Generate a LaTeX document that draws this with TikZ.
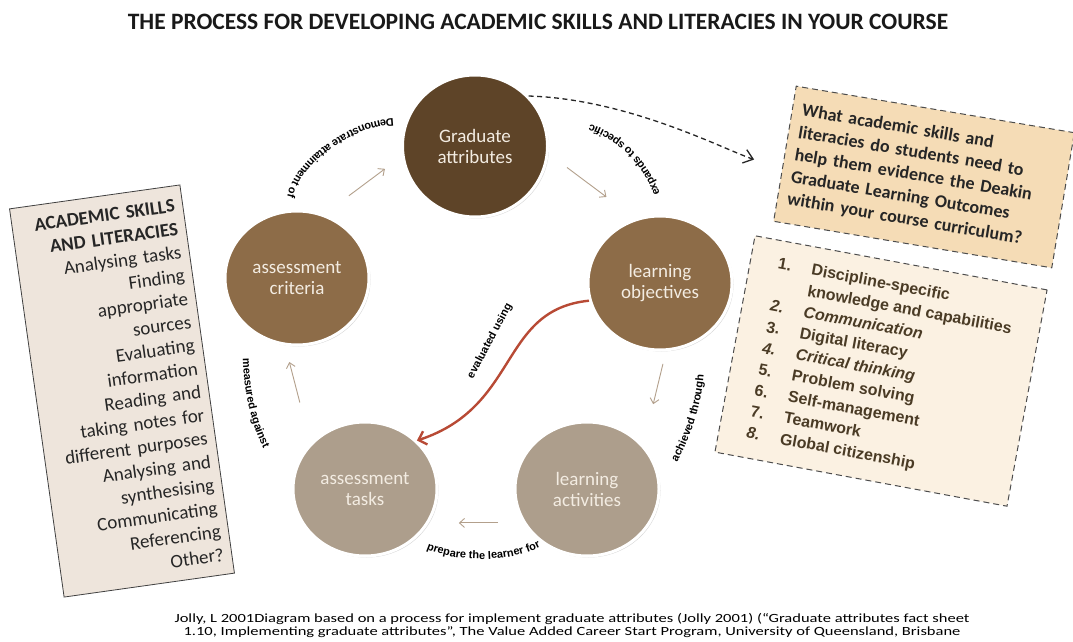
\documentclass[tikz,border=0pt]{standalone}
\usepackage{fontspec}
\setmainfont{Carlito}
\newfontfamily\arialfont{Liberation Sans}
\newfontfamily\srcfont[FakeStretch=1.32]{Carlito}
\usetikzlibrary{arrows.meta,shapes.geometric,shadows,decorations.text}
\definecolor{gabrown}{HTML}{5E4428}
\definecolor{midbrown}{HTML}{8D6C48}
\definecolor{greybrown}{HTML}{AD9E8C}
\definecolor{circtext}{HTML}{F3ECE2}
\definecolor{skillfill}{HTML}{EEE5DC}
\definecolor{askfill}{HTML}{F5DCB6}
\definecolor{listfill}{HTML}{FBF1E2}
\definecolor{listtext}{HTML}{4A3B25}
\definecolor{cyclearrow}{HTML}{B3A08C}
\definecolor{evalred}{HTML}{B84A35}
\newcommand\lblfont{\arialfont\bfseries\fontsize{11}{13}\selectfont}

\begin{document}
\begin{tikzpicture}[x=1pt,y=1pt,
  stage/.style={ellipse,minimum width=144pt,minimum height=134pt,draw=white,line width=3pt,
    text=circtext,align=center,font=\fontsize{19}{21}\selectfont,
    drop shadow={shadow xshift=1.5pt,shadow yshift=-1.5pt,opacity=.3}},
  cyc/.style={draw=cyclearrow,line width=.9pt,-{Straight Barb[length=5pt,width=9pt]}},
  pathlbl/.style={decorate,decoration={text along path,text align=center,text={|\lblfont|#1}}},
  dashbox/.style={draw=black!70,dashed,dash pattern=on 6pt off 4pt,line width=1pt}]

\path[use as bounding box,fill=white] (0,0) rectangle (1073,641);

\node[font=\bfseries\fontsize{23.5}{26}\selectfont,text=black!90] (title) at (538,619)
  {THE PROCESS FOR DEVELOPING ACADEMIC SKILLS AND LITERACIES IN YOUR COURSE};

\node[stage,fill=gabrown,minimum width=145pt,minimum height=142pt] (ga) at (475,495) {Graduate\\attributes};
\node[stage,fill=midbrown] (lo) at (660,358) {learning\\objectives};
\node[stage,fill=greybrown] (la) at (587,152) {learning\\activities};
\node[stage,fill=greybrown] (at) at (365,152) {assessment\\tasks};
\node[stage,fill=midbrown] (ac) at (297,363) {assessment\\criteria};

\draw[cyc,shorten <=31pt,shorten >=21pt] (ac.67) -- (ga.188);
\draw[cyc,shorten <=23pt,shorten >=36pt] (ga.354) -- (lo.111);
\draw[cyc,shorten <=13pt,shorten >=42pt] (lo.275) -- (la.38);
\draw[cyc,shorten <=25pt,shorten >=30pt] (la.208) -- (at.332);
\draw[cyc,shorten <=42pt,shorten >=17pt] (at.140) -- (ac.260);

\draw[evalred,line width=2.4pt,-{Straight Barb[length=7pt,width=14pt]}]
  (lo.194) .. controls +(-90,-9) and +(103,34) .. (at.43);
\node[font=\lblfont,rotate=62] (evl) at (490,300) {evaluated using};

\path[pathlbl={Demonstrate attainment of}] (402,522) .. controls (360,527) and (288,482) .. (286,436);
\path[pathlbl={expands to specific}] (664,430) .. controls (658,470) and (622,514) .. (573,521);
\path[pathlbl={achieved through}] (672,170) .. controls (690,200) and (704,240) .. (704,276);
\path[pathlbl={prepare the learner for}] (420,95) .. controls (452,78) and (512,76) .. (547,98);
\path[pathlbl={measured against}] (243,292) .. controls (242,255) and (251,213) .. (268,184);

\node[draw=black!75,line width=.8pt,fill=skillfill,rotate=8,minimum width=172pt,minimum height=392pt,
  text width=156pt,align=right,font=\fontsize{19}{23.5}\selectfont,text=black!85] (skills) at (122,250)
  {\textbf{ACADEMIC SKILLS}\\\textbf{AND LITERACIES}\\Analysing tasks\\Finding\\appropriate\\sources\\
   Evaluating\\information\\Reading and\\taking notes for\\different purposes\\Analysing and\\
   synthesising\\Communicating\\Referencing\\Other?};

\node[dashbox,fill=listfill,rotate=-10.5,minimum width=297pt,minimum height=220pt,
  font=\arialfont\bfseries\fontsize{16}{21.5}\selectfont,text=listtext] (gbox) at (881,270)
  {\begin{tabular}{@{}p{34pt}@{}l@{}}
   1. & Discipline-specific\\
      & knowledge and capabilities\\
   \textit{2.} & \textit{Communication}\\
   3. & Digital literacy\\
   \textit{4.} & \textit{Critical thinking}\\
   5. & Problem solving\\
   6. & Self-management\\
   7. & Teamwork\\
   \textit{8.} & Global citizenship
   \end{tabular}};

\node[dashbox,fill=askfill,rotate=-9.5,minimum width=282pt,minimum height=137pt,
  text width=262pt,align=left,font=\bfseries\fontsize{18}{22.5}\selectfont,text=black!85] (qbox) at (924,464)
  {What academic skills and\\literacies do students need to\\help them evidence the Deakin\\
   Graduate Learning Outcomes\\within your course curriculum?};

\draw[draw=black!85,dash pattern=on 5pt off 3.5pt,line width=1.3pt,
  -{Straight Barb[length=9pt,width=14pt]},shorten >=32pt]
  (ga.43) .. controls +(100,-3) and +(-60,20) .. ([yshift=-16pt]qbox.west);

\node[align=center,font=\srcfont\fontsize{12.5}{13}\selectfont] (src) at (572,16)
  {Jolly, L 2001Diagram based on a process for implement graduate attributes  (Jolly 2001) (“Graduate attributes fact sheet\\
   1.10, Implementing graduate  attributes”, The Value  Added Career Start  Program,  University of Queensland, Brisbane};

\end{tikzpicture}
\end{document}
